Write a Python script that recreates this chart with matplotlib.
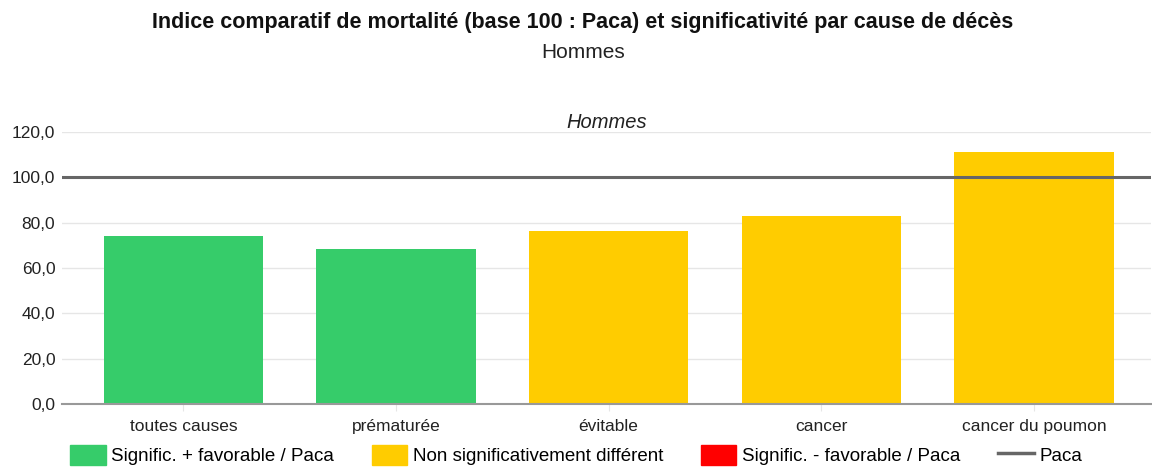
import matplotlib.pyplot as plt
from matplotlib.patches import Patch
from matplotlib.lines import Line2D
from matplotlib.ticker import FuncFormatter

plt.rcParams['font.family'] = ['Liberation Sans', 'DejaVu Sans']

# data
causes = ["toutes causes", "prématurée", "évitable", "cancer", "cancer du poumon"]
indices = [74.1, 68.4, 76.3, 82.9, 111.2]
signif = ["plus", "plus", "ns", "ns", "ns"]
reference = 100

colors = {"plus": "#36CC6A", "ns": "#FFCC00", "moins": "#FF0000"}
labels = {"plus": "Signific. + favorable / Paca",
          "ns": "Non significativement différent",
          "moins": "Signific. - favorable / Paca"}

fig = plt.figure(figsize=(11.52, 4.71), dpi=100)
ax = fig.add_axes([0.054, 0.142, 0.945, 0.578])

x = range(len(causes))
ax.bar(x, indices, width=0.75, color=[colors[s] for s in signif], zorder=2)
ax.axhline(reference, color="#666666", linewidth=2.2, zorder=3)

ax.set_ylim(0, 120)
ax.set_xlim(-0.57, 4.55)
ax.set_yticks(range(0, 121, 20))
ax.yaxis.set_major_formatter(FuncFormatter(lambda v, p: f"{v:.1f}".replace(".", ",")))
ax.set_xticks(list(x))
ax.set_xticklabels(causes)
ax.grid(axis="y", color="#e6e6e6", linewidth=1, zorder=0)
for s in ["top", "right", "left"]:
    ax.spines[s].set_visible(False)
ax.spines["bottom"].set_color("#999999")
ax.spines["bottom"].set_linewidth(1.5)
ax.tick_params(axis="y", length=0, labelsize=12.5, colors="#222222", pad=5)
ax.tick_params(axis="x", length=5, color="#e6e6e6", labelsize=12.5, colors="#222222", pad=6)

ax.set_title("Hommes", fontsize=14.5, style="italic", color="#222222", pad=3)
fig.text(0.506, 0.953, "Indice comparatif de mortalité (base 100 : Paca) et significativité par cause de décès",
         ha="center", va="center", fontsize=15.5, fontweight="bold", color="#111111")
fig.text(0.506, 0.889, "Hommes", ha="center", va="center", fontsize=15, color="#222222")

handles = [Patch(color=colors[k]) for k in ["plus", "ns", "moins"]]
handles.append(Line2D([0], [0], color="#666666", linewidth=2.5))
leg_labels = [labels[k] for k in ["plus", "ns", "moins"]] + ["Paca"]
fig.legend(handles, leg_labels, loc="center", bbox_to_anchor=(0.5, 0.034), ncol=4,
           frameon=False, fontsize=13.5, handlelength=1.9, handleheight=1.3,
           handletextpad=0.3, columnspacing=2.0)

fig.savefig("out.png", dpi=100)
